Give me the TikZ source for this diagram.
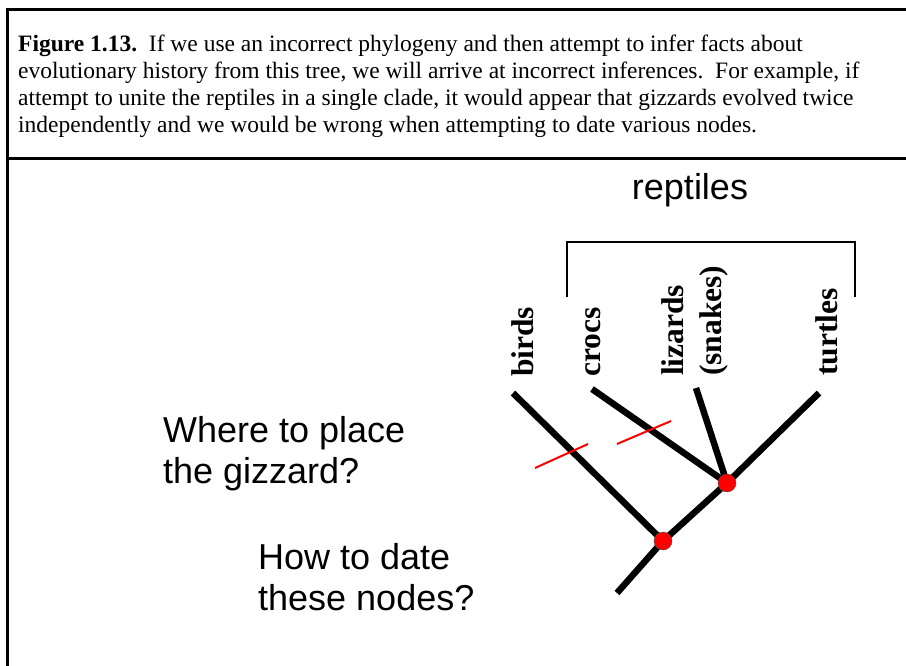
\documentclass[tikz,border=0pt]{standalone}
\usepackage{fontspec}
\setmainfont{Liberation Serif}
\setsansfont{Liberation Sans}
\usetikzlibrary{backgrounds}
\begin{document}
\begin{tikzpicture}[x=1pt, y=-1pt,
    branch/.style={line width=6.5pt},
    taxon/.style={rotate=90, inner sep=0pt, font=\fontsize{31.5}{38}\selectfont\bfseries},
    question/.style={inner sep=0pt, align=left, anchor=north west, font=\fontsize{36}{41}\selectfont\sffamily},
    dot/.style={circle, draw=black!70, thin, fill=red, minimum size=18pt, inner sep=0pt},
    gizzard/.style={red, line width=2pt}]
    \useasboundingbox (0,0) rectangle (906,666);
    \draw[line width=3pt] (906,10) -- (7,10) -- (7,666);
    \draw[line width=3pt] (7,159) -- (906,159);

    \node (caption) [anchor=north west, inner sep=0pt, align=left, font=\fontsize{23.5}{27}\selectfont] at (18,35)
    {\textbf{Figure 1.13.}\ \ If we use an incorrect phylogeny and then attempt to infer facts about\\
     evolutionary history from this tree, we will arrive at incorrect inferences.\ \ For example, if\\
     attempt to unite the reptiles in a single clade, it would appear that gizzards evolved twice\\
     independently and we would be wrong when attempting to date various nodes.};

    \node (reptiles) [font=\fontsize{36}{41}\selectfont\sffamily, inner sep=0pt] at (690,190) {reptiles};
    \draw[line width=1.5pt] (567,297) -- (567,242) -- (855,242) -- (855,297);

    \node (birds) [taxon, anchor=base west] at (533,377) {birds};
    \node (crocs) [taxon, anchor=base west] at (600,377) {crocs};
    \node (lizards) [taxon, anchor=north west, align=left] at (661,376) {lizards\\(snakes)};
    \node (turtles) [taxon, anchor=base west] at (837,376) {turtles};

    \node (where) [question] at (163,416) {Where to place\\the gizzard?};
    \node (how) [question] at (258,543) {How to date\\these nodes?};

    \coordinate (birdtip) at (513,393);
    \coordinate (croctip) at (592,389);
    \coordinate (lizardtip) at (696,388);
    \coordinate (turtletip) at (819,393);
    \coordinate (root) at (617,593);
    \node (lower) [dot] at (663,541) {};
    \node (upper) [dot] at (727,483) {};
    \begin{scope}[on background layer]
        \draw[branch] (birdtip) -- (lower.center);
        \draw[branch] (croctip) -- (upper.center);
        \draw[branch] (lizardtip) -- (upper.center);
        \draw[branch] (turtletip) -- (upper.center) -- (lower.center) -- (root);
    \end{scope}

    \draw[gizzard] (535,468) -- (588,444);
    \draw[gizzard] (617,444) -- (671,421);
\end{tikzpicture}
\end{document}
